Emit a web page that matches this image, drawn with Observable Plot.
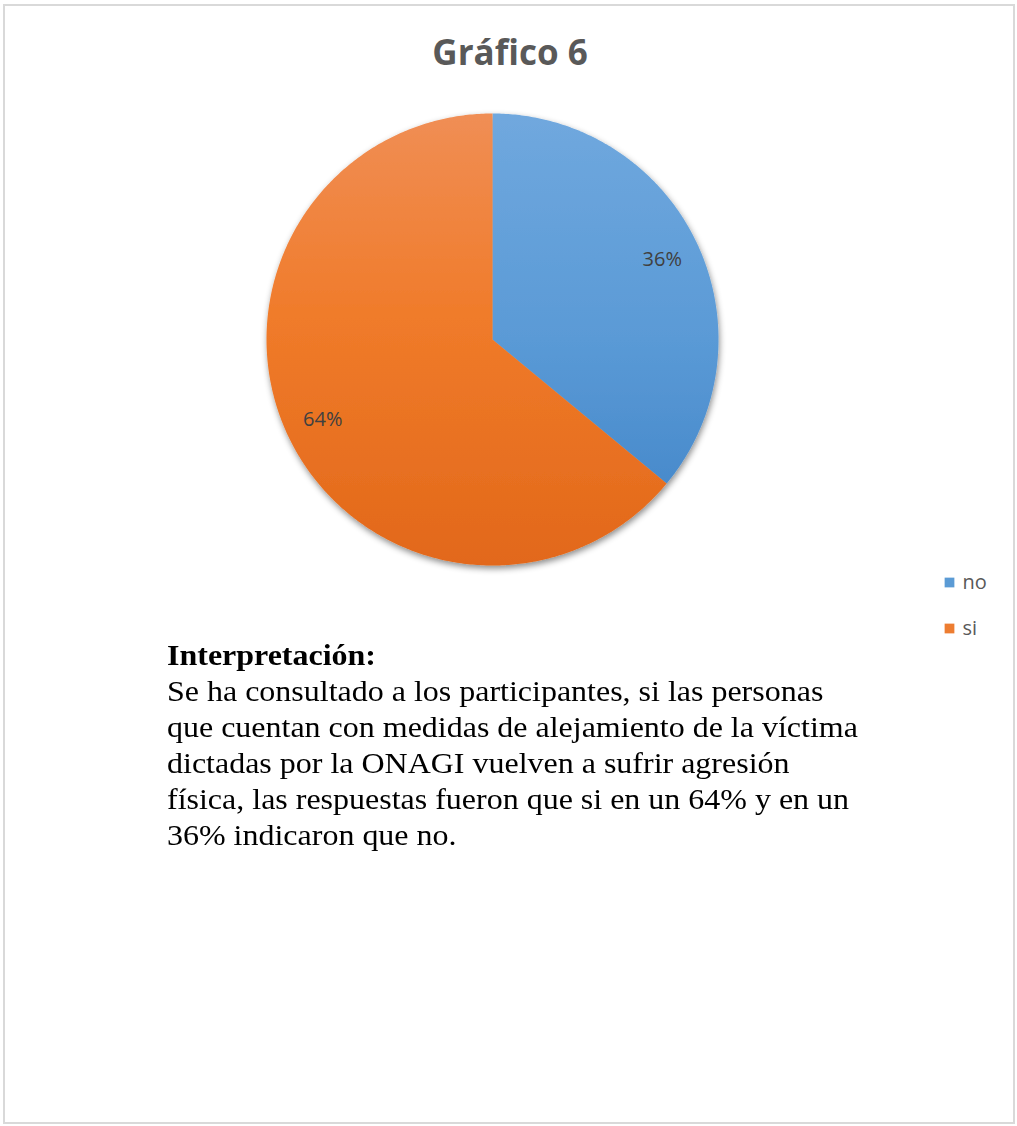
<!DOCTYPE html>
<html>
<head>
<meta charset="utf-8">
<script src="https://cdn.jsdelivr.net/npm/d3@7"></script>
<script src="https://cdn.jsdelivr.net/npm/@observablehq/plot@0.6"></script>
<style>
  html, body { margin: 0; padding: 0; background: #fff; }
  #page { position: relative; width: 1017px; height: 1126px; overflow: hidden; }
  #frame { position: absolute; left: 3px; top: 4px; width: 1008px; height: 1116px; border: 2px solid #d9d9d9; box-sizing: content-box; }
  #title { position: absolute; left: 0; width: 1020px; top: 28px; text-align: center; font-family: "Open Sans", sans-serif; font-weight: bold; font-size: 35px; color: #595959; }
  #chart { position: absolute; left: 0; top: 0; }
  #text { position: absolute; left: 167px; top: 637px; font-family: "Liberation Serif", "Times New Roman", serif; font-size: 30px; line-height: 36px; color: #000; white-space: nowrap; transform: scaleX(1.066); transform-origin: 0 0; }
  #text b { font-weight: bold; }
</style>
</head>
<body>
<div id="page">
  <div id="frame"></div>
  <div id="chart"></div>
  <div id="title">Gráfico 6</div>
  <div id="text"></div>
</div>
<script>
const categories = ["no", "si"];
const values = [36, 64];
const labels = ["36%", "64%"];
const titleText = "Gráfico 6";
const heading = "Interpretación:";
const bodyLines = [
  "Se ha consultado a los participantes, si las personas",
  "que cuentan con medidas de alejamiento de la víctima",
  "dictadas por la ONAGI vuelven a sufrir agresión",
  "física, las respuestas fueron que si en un 64% y en un",
  "36% indicaron que no."
];

const W = 1017, H = 1126;
const cx = 492, cy = 339, R = 226;
const fills = { no: "url(#gradNo)", si: "url(#gradSi)" };
const solid = { no: "#5b9bd5", si: "#ed7d31" };

const pie = d3.pie().sort(null).value(d => d.value)(categories.map((c, i) => ({ cat: c, value: values[i], label: labels[i] })));

const slicePts = [];
pie.forEach(s => {
  slicePts.push({ cat: s.data.cat, x: cx, y: cy });
  const n = Math.max(2, Math.ceil((s.endAngle - s.startAngle) / 0.01));
  for (let k = 0; k <= n; k++) {
    const a = s.startAngle + (s.endAngle - s.startAngle) * k / n;
    slicePts.push({ cat: s.data.cat, x: cx + R * Math.sin(a), y: cy - R * Math.cos(a) });
  }
  slicePts.push({ cat: s.data.cat, x: cx, y: cy });
});
const labelPts = pie.map(s => {
  const a = (s.startAngle + s.endAngle) / 2;
  return { label: s.data.label, x: cx + 0.83 * R * Math.sin(a), y: cy - 0.83 * R * Math.cos(a) };
});
const legend = categories.map((c, i) => ({ cat: c, x: 949, y: 582 + i * 46 }));

const chart = Plot.plot({
  width: W, height: H,
  margin: 0,
  x: { domain: [0, W], range: [0, W], axis: null },
  y: { domain: [0, H], range: [0, H], axis: null },
  color: { type: "identity" },
  marks: [
    Plot.line(slicePts, { x: "x", y: "y", z: "cat", fill: d => fills[d.cat], stroke: "none", curve: "linear" }),
    Plot.text(labelPts, { x: "x", y: "y", text: "label", fill: "#404040", fontSize: 20, fontFamily: "Open Sans, sans-serif" }),
    Plot.dot(legend, { x: "x", y: "y", symbol: "square", r: 5.5, fill: d => solid[d.cat], stroke: "none" }),
    Plot.text(legend, { x: d => d.x + 13, y: "y", text: "cat", textAnchor: "start", fill: "#595959", fontSize: 20, fontFamily: "Open Sans, sans-serif" })
  ]
});

const svg = d3.select(chart);
const defs = svg.insert("defs", ":first-child");
const g1 = defs.append("linearGradient").attr("id", "gradNo").attr("gradientUnits", "userSpaceOnUse")
  .attr("x1", 0).attr("y1", cy - R).attr("x2", 0).attr("y2", cy + R);
g1.append("stop").attr("offset", "0").attr("stop-color", "#70a8de");
g1.append("stop").attr("offset", "0.5").attr("stop-color", "#5a9ad6");
g1.append("stop").attr("offset", "1").attr("stop-color", "#3f82c6");
const g2 = defs.append("linearGradient").attr("id", "gradSi").attr("gradientUnits", "userSpaceOnUse")
  .attr("x1", 0).attr("y1", cy - R).attr("x2", 0).attr("y2", cy + R);
g2.append("stop").attr("offset", "0").attr("stop-color", "#f08e55");
g2.append("stop").attr("offset", "0.45").attr("stop-color", "#f07b2a");
g2.append("stop").attr("offset", "1").attr("stop-color", "#e2681a");
const f = defs.append("filter").attr("id", "shadow").attr("x", "-10%").attr("y", "-10%").attr("width", "120%").attr("height", "125%");
f.append("feDropShadow").attr("dx", 1).attr("dy", 3).attr("stdDeviation", 3).attr("flood-color", "#000").attr("flood-opacity", 0.45);
svg.select("g[aria-label='line']").attr("filter", "url(#shadow)");

document.getElementById("chart").appendChild(chart);
document.getElementById("title").textContent = titleText;
const t = document.getElementById("text");
t.innerHTML = "<b>" + heading + "</b><br>" + bodyLines.join("<br>");
</script>
</body>
</html>
